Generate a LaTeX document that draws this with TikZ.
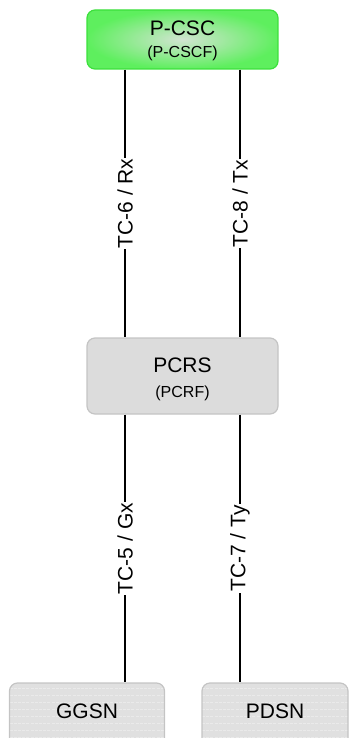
\documentclass[tikz,border=0pt]{standalone}
\usepackage{fontspec}
\setmainfont{Liberation Sans}
\definecolor{gOuter}{HTML}{5EEF5E}
\definecolor{gInner}{HTML}{D2E4D2}
\definecolor{gBorder}{HTML}{3CE03C}
\definecolor{pFill}{HTML}{DCDCDC}
\definecolor{pBorder}{HTML}{C4C4C4}
\definecolor{bFill}{HTML}{E0E0E0}
\definecolor{bStripe}{HTML}{EAEAEA}
\begin{document}
\begin{tikzpicture}[x=1pt,y=-1pt,
  box/.style={rounded corners=8pt, line width=1.2pt, inner sep=0pt},
  greenbox/.style={box, draw=gBorder, shading=radial, inner color=gInner, outer color=gOuter},
  graybox/.style={box, draw=pBorder, fill=pFill},
  stripebox/.style={box, draw=pBorder, fill=bFill,
    path picture={\foreach \k in {1,...,12}{\draw[bStripe, line width=0.7pt, dash pattern=on 3pt off 1.2pt]
      ([yshift={2pt-\k*7pt}]path picture bounding box.north west) -- ([yshift={2pt-\k*7pt}]path picture bounding box.north east);}}},
  bigtxt/.style={anchor=base, inner sep=0pt, font=\fontsize{21}{21}\selectfont},
  smalltxt/.style={anchor=base, inner sep=0pt, font=\fontsize{16}{16}\selectfont},
  conn/.style={line width=1.5pt, black},
  lbl/.style={midway, rotate=90, fill=white, inner sep=1pt, font=\fontsize{21}{21}\selectfont}
]
\useasboundingbox (0,0) rectangle (349,738);
\clip (0,0) rectangle (349,738);

% boxes
\node[greenbox, minimum width=191pt, minimum height=59pt] (pcsc) at (182.5,39.5) {};
\node[graybox, minimum width=191pt, minimum height=76pt] (pcrs) at (182.5,376) {};
\node[stripebox, minimum width=155pt, minimum height=70pt] (ggsn) at (87,718) {};
\node[stripebox, minimum width=146pt, minimum height=70pt] (pdsn) at (275,718) {};

% texts
\node[bigtxt] (pcsct) at (182.5,36) {P-CSC};
\node[smalltxt] (pcscs) at (182.5,57.5) {(P-CSCF)};
\node[bigtxt] (pcrst) at (182.5,372) {PCRS};
\node[smalltxt] (pcrss) at (182.5,397) {(PCRF)};
\node[bigtxt] (ggsnt) at (87,718.3) {GGSN};
\node[bigtxt] (pdsnt) at (275,718.3) {PDSN};

% connectors
\draw[conn] ([xshift=-57.5pt]pcsc.south) -- node[lbl] {TC-6 / Rx} ([xshift=-57.5pt]pcrs.north);
\draw[conn] ([xshift=57.5pt]pcsc.south) -- node[lbl] {TC-8 / Tx} ([xshift=57.5pt]pcrs.north);
\draw[conn] ([xshift=-57.5pt]pcrs.south) -- node[lbl] {TC-5 / Gx} ([xshift=-57.5pt]pcrs.south |- ggsn.north);
\draw[conn] ([xshift=57.5pt]pcrs.south) -- node[lbl] {TC-7 / Ty} ([xshift=57.5pt]pcrs.south |- pdsn.north);
\end{tikzpicture}
\end{document}
